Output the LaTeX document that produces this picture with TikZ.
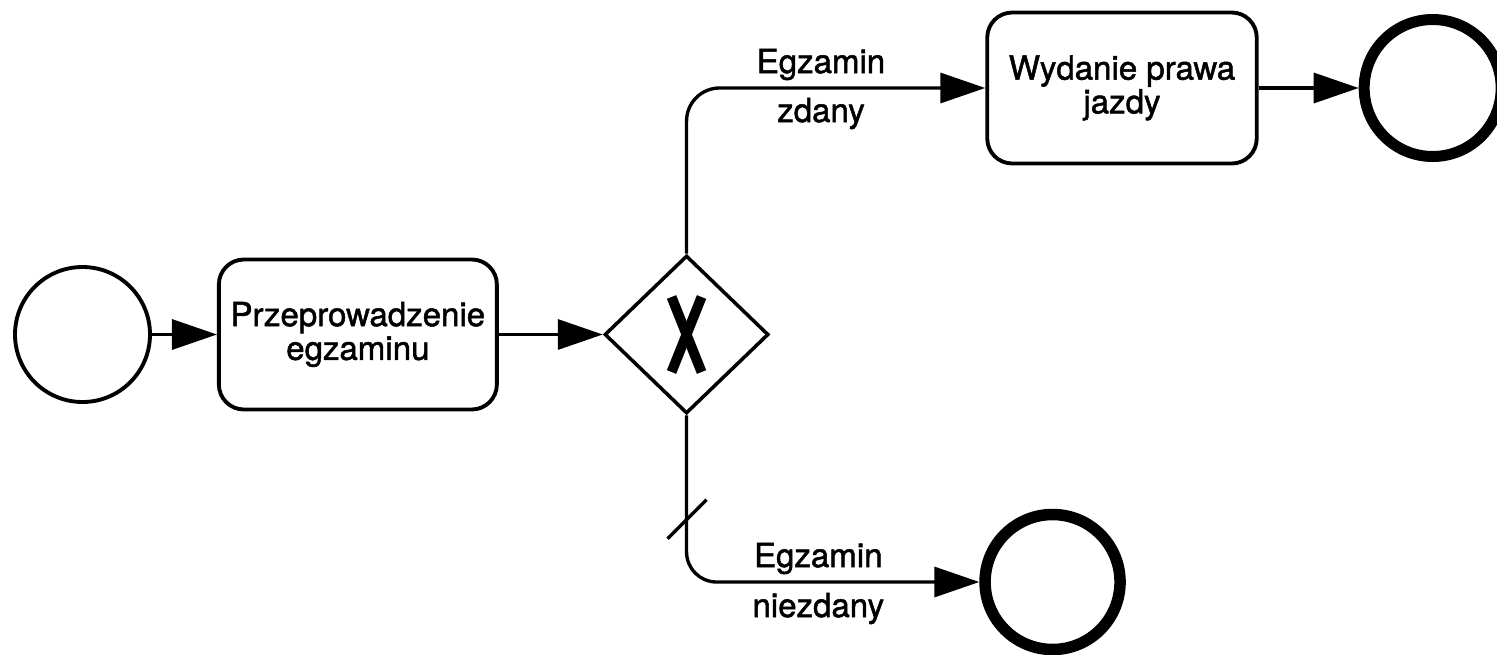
\documentclass[tikz,border=0pt]{standalone}
\usepackage{fontspec}
\setmainfont{TeX Gyre Heros}
\newfontfamily\diagfont[FakeBold=1.5]{TeX Gyre Heros}
\usetikzlibrary{positioning,arrows.meta,shapes.geometric}

\begin{document}
\begin{tikzpicture}[
>={Triangle[length=0.45cm,width=0.30cm]},
node distance=1cm,
event/.style={
draw,
circle,
line width=1.1pt,
minimum size=1.35cm,
inner sep=0pt
},
endevent/.style={
event,
line width=0.115cm
},
task/.style={
draw,
rounded corners=0.25cm,
line width=1.1pt,
minimum width=2.78cm,
minimum height=1.50cm,
align=center,
font=\diagfont\fontsize{9.4pt}{9.6pt}\selectfont
},
gateway/.style={
draw,
diamond,
line width=1pt,
minimum width=1.64cm,
minimum height=1.58cm,
inner sep=0pt,
path picture={
\draw[line width=0.1cm]
([shift={(-0.15,0.375)}]path picture bounding box.center) --
([shift={(0.15,-0.375)}]path picture bounding box.center);
\draw[line width=0.1cm]
([shift={(0.15,0.375)}]path picture bounding box.center) --
([shift={(-0.15,-0.375)}]path picture bounding box.center);
}
},
flow/.style={->,line width=0.95pt},
lab/.style={
anchor=base,
inner sep=0pt,
font=\diagfont\fontsize{9.4pt}{9.6pt}\selectfont
}
]

\useasboundingbox (0,0) rectangle (14.97,-6.55);

%%%%%%%%%%%%%%%%%%%%%%%%%%%%%%%%%%%%%%%%%%%%%
% Main Flow
%%%%%%%%%%%%%%%%%%%%%%%%%%%%%%%%%%%%%%%%%%%%%

\node[event] (start) at (0.825,-3.345) {};

\node[task,right=0.65cm of start] (exam)
{Przeprowadzenie\\egzaminu};

\node[gateway,right=1.04cm of exam] (gate) {};

%%%%%%%%%%%%%%%%%%%%%%%%%%%%%%%%%%%%%%%%%%%%%
% Outcomes
%%%%%%%%%%%%%%%%%%%%%%%%%%%%%%%%%%%%%%%%%%%%%

\node[task,minimum width=2.695cm,minimum height=1.51cm,
right=2.15cm of gate,yshift=2.465cm] (licence)
{Wydanie prawa\\jazdy};

\node[endevent,minimum size=1.37cm,line width=0.11cm,
right=1.0cm of licence] (endpass) {};

\node[endevent,right=2.09cm of gate,yshift=-2.475cm] (endfail) {};

%%%%%%%%%%%%%%%%%%%%%%%%%%%%%%%%%%%%%%%%%%%%%
% Connections
%%%%%%%%%%%%%%%%%%%%%%%%%%%%%%%%%%%%%%%%%%%%%

\draw[flow] (start)--(exam);

\draw[flow] (exam)--(gate);

\draw[flow,rounded corners=0.33cm] (gate.north) |- (licence)
node[lab,pos=0.725,yshift=0.15cm] (passtop) {Egzamin}
node[lab,pos=0.725,yshift=-0.34cm] (passbot) {zdany};

\draw[flow] (licence)--(endpass);

\draw[flow,rounded corners=0.3cm] (gate.south) |- (endfail)
coordinate[pos=0.31] (dflt)
node[lab,pos=0.725,yshift=0.15cm] (failtop) {Egzamin}
node[lab,pos=0.725,yshift=-0.35cm] (failbot) {niezdany};

% default flow marker
\draw[line width=0.95pt] ([shift={(-0.19,-0.20)}]dflt)--([shift={(0.20,0.19)}]dflt);

\end{tikzpicture}
\end{document}
